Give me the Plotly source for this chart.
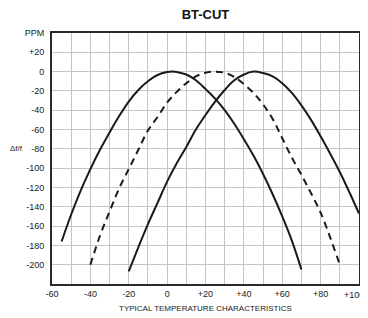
import plotly.graph_objects as go

# Curve A: solid, turnover near +3 C
temp_a = [-55, -50, -45, -40, -35, -30, -25, -20, -15, -10, -5, 0, 3, 5, 10, 15, 20, 25, 30, 35, 40, 45, 50, 55, 60, 65, 70]
ppm_a = [-176, -148, -123, -101, -81, -63, -46, -31, -19, -10, -3.5, -0.5, 0, -0.3, -3, -9, -18, -28, -40, -54, -70, -87, -106, -127, -150, -175, -205]

# Curve B: dashed, turnover near +25 C
temp_b = [-40, -35, -30, -25, -20, -15, -10, -5, 0, 5, 10, 15, 20, 25, 30, 35, 40, 45, 50, 55, 60, 65, 70, 75, 80, 85, 90]
ppm_b = [-200, -170, -145, -121, -101, -81, -61, -47, -32, -21, -12, -5, -1.2, 0, -1.2, -5.5, -13, -22, -34, -49, -69, -89, -107, -126, -146, -172, -200]

# Curve C: solid, turnover near +45 C
temp_c = [-20, -15, -10, -5, 0, 5, 10, 15, 20, 25, 30, 35, 40, 45, 50, 55, 60, 65, 70, 75, 80, 85, 90, 95, 100]
ppm_c = [-207, -182, -158, -136, -114, -95, -78, -60, -45, -31, -19, -9, -3, 0, -1.5, -5, -12, -22, -35, -50, -67, -85, -104, -125, -147]

x_ticks = [-60, -50, -40, -30, -20, -10, 0, 10, 20, 30, 40, 50, 60, 70, 80, 90, 100]
x_labels = ["-60", "", "-40", "", "-20", "", "0", "", "+20", "", "+40", "", "+60", "", "+80", "", ""]
x_edge_label = "+100"
y_ticks = [-200, -180, -160, -140, -120, -100, -80, -60, -40, -20, 0, 20, 40]
y_labels = ["-200", "-180", "-160", "-140", "-120", "-100", "-80", "-60", "-40", "-20", "0", "+20", "PPM"]

FONT = "Liberation Sans Narrow, Liberation Sans, Arial, sans-serif"

# the page body adds an 8px offset, so the figure is laid out 8px smaller
W, H = 360, 310
ML, MR, MT, MB = 44, 7, 25, 34
PLOT_W = W - ML - MR
PLOT_H = H - MT - MB

fig = go.Figure()
line_style = dict(color="#1a1a1a", width=2, shape="spline", smoothing=1.0)
fig.add_trace(go.Scatter(x=temp_a, y=ppm_a, mode="lines", line=line_style, hoverinfo="skip"))
fig.add_trace(go.Scatter(x=temp_b, y=ppm_b, mode="lines",
                         line=dict(color="#1a1a1a", width=2, shape="spline", smoothing=1.0, dash="7px,5px"),
                         hoverinfo="skip"))
fig.add_trace(go.Scatter(x=temp_c, y=ppm_c, mode="lines", line=line_style, hoverinfo="skip"))

tick_font = dict(family=FONT, size=9, color="#222")
axis_common = dict(showgrid=True, gridcolor="#c4c4c4", gridwidth=1.3, zeroline=False,
                   showline=True, mirror=True, linecolor="#2a2a2a", linewidth=2,
                   ticks="", tickfont=tick_font)

fig.update_layout(
    width=W, height=H,
    margin=dict(l=ML, r=MR, t=MT, b=MB),
    paper_bgcolor="white", plot_bgcolor="white",
    showlegend=False,
    title=dict(text="<b>BT-CUT</b>", x=0.5, xref="paper", y=1 - 2 / H, yref="container",
               xanchor="center", yanchor="top", pad=dict(t=0, b=0),
               font=dict(family="Liberation Sans, Arial, sans-serif", size=13, color="#111")),
    xaxis=dict(range=[-60, 100], tickvals=x_ticks, ticktext=x_labels, **axis_common),
    yaxis=dict(range=[-220, 40], tickvals=y_ticks, ticktext=y_labels, ticklabelstandoff=4, **axis_common),
    annotations=[
        dict(text="TYPICAL TEMPERATURE CHARACTERISTICS", xref="paper", yref="paper",
             x=0.5, y=-24 / PLOT_H, xanchor="center", yanchor="middle", showarrow=False,
             font=dict(family=FONT, size=8, color="#222")),
        dict(text="Δf/f", xref="paper", yref="y", x=-44 / PLOT_W, y=-80,
             xanchor="left", yanchor="middle", showarrow=False,
             font=dict(family=FONT, size=8, color="#222")),
        dict(text=x_edge_label, xref="x", yref="paper", x=100, xshift=-5, y=-11 / PLOT_H,
             xanchor="center", yanchor="middle", showarrow=False, font=tick_font),
    ],
)

fig.write_html("out.html", config={"displayModeBar": False})
